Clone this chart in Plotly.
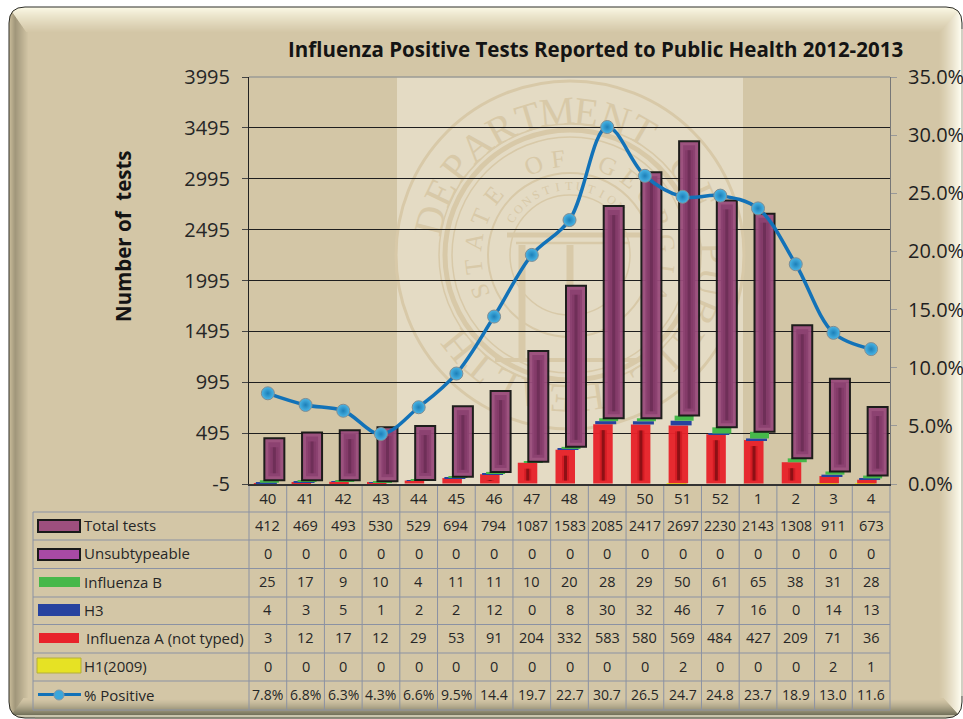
import math
import numpy as np
import plotly.graph_objects as go

weeks = ["40","41","42","43","44","45","46","47","48","49","50","51","52","1","2","3","4"]
total_tests = [412,469,493,530,529,694,794,1087,1583,2085,2417,2697,2230,2143,1308,911,673]
unsubtypeable = [0]*17
influenza_b = [25,17,9,10,4,11,11,10,20,28,29,50,61,65,38,31,28]
h3 = [4,3,5,1,2,2,12,0,8,30,32,46,7,16,0,14,13]
influenza_a = [3,12,17,12,29,53,91,204,332,583,580,569,484,427,209,71,36]
h1_2009 = [0,0,0,0,0,0,0,0,0,0,0,2,0,0,0,2,1]
pct_positive = [7.8,6.8,6.3,4.3,6.6,9.5,14.4,19.7,22.7,30.7,26.5,24.7,24.8,23.7,18.9,13.0,11.6]
pct_labels = ["7.8%","6.8%","6.3%","4.3%","6.6%","9.5%","14.4","19.7","22.7","30.7","26.5","24.7","24.8","23.7","18.9","13.0","11.6"]
y_ticks = [-5,495,995,1495,1995,2495,2995,3495,3995]
title_text = "Influenza Positive Tests Reported to Public Health 2012-2013"
row_names = ["Total tests","Unsubtypeable","Influenza B","H3","Influenza A (not typed)","H1(2009)","% Positive"]

W, H = 963, 719
L, R, T, B = 249, 890, 77, 484
CAT = (R - L) / 17
FONT = "Open Sans"
TXT = "#262626"

def px(x): return (x - L) / (R - L)
def py(y): return (B - y) / (B - T)
def lerp(a, b, t):
    ca = [int(a[i:i+2], 16) for i in (1, 3, 5)]
    cb = [int(b[i:i+2], 16) for i in (1, 3, 5)]
    return "#%02x%02x%02x" % tuple(round(u + (v - u) * t) for u, v in zip(ca, cb))

shapes, ann = [], []

def rect(x0, y0, x1, y1, fill, line=None, lw=0, layer="below"):
    shapes.append(dict(type="rect", xref="paper", yref="paper", x0=px(x0), x1=px(x1), y0=py(y0), y1=py(y1),
                       fillcolor=fill, line=dict(color=line or "rgba(0,0,0,0)", width=lw), layer=layer))

def hline(x0, x1, y, color, w=1, layer="below"):
    shapes.append(dict(type="line", xref="paper", yref="paper", x0=px(x0), x1=px(x1), y0=py(y), y1=py(y),
                       line=dict(color=color, width=w), layer=layer))

def vline(x, y0, y1, color, w=1, layer="below"):
    shapes.append(dict(type="line", xref="paper", yref="paper", x0=px(x), x1=px(x), y0=py(y0), y1=py(y1),
                       line=dict(color=color, width=w), layer=layer))

# ---------- panel with bevel
X0, X1, Y0, Y1, RAD = 9, 962, 7, 718, 16
BASE = "#d3c6a6"
rect(X0, Y0, X1, Y1, BASE)
for x in range(X0, 29):
    t = (x - X0) / 19
    c = lerp("#c8bb99", "#a0967a", t / .3) if t < .3 else lerp("#a0967a", BASE, (t - .3) / .7)
    rect(x, Y0, x + 1, Y1, c)
for x in range(938, X1):
    rect(x, Y0, x + 1, Y1, lerp(BASE, "#fffef2", ((x - 938) / 23) ** 1.3))
for y in range(Y0, 32):
    rect(X0 + (y - Y0) * .7, y, X1 - (y - Y0) * .9, y + 1, lerp("#fdfbe8", BASE, ((y - Y0) / 25) ** .8))
for y in range(698, Y1):
    t = (y - 698) / 17
    c = lerp(BASE, "#6c6b55", t ** 1.5) if y < 715 else "#c9c5ad"
    rect(X0 + (Y1 - y) * .7, y, X1 - (Y1 - y) * .9, y + 1, c)

P = lambda x, y: f"{px(x):.5f},{py(y):.5f}"
def rr_path():
    k = RAD
    return (f"M{P(X0+k,Y0)} L{P(X1-k,Y0)} Q{P(X1,Y0)} {P(X1,Y0+k)} L{P(X1,Y1-k)} Q{P(X1,Y1)} {P(X1-k,Y1)} "
            f"L{P(X0+k,Y1)} Q{P(X0,Y1)} {P(X0,Y1-k)} L{P(X0,Y0+k)} Q{P(X0,Y0)} {P(X0+k,Y0)} Z")

shapes.append(dict(type="path", xref="paper", yref="paper", layer="below", fillcolor="#ffffff", line=dict(width=0),
                   path=f"M{P(0,0)} L{P(W,0)} L{P(W,H)} L{P(0,H)} Z " + rr_path()))
shapes.append(dict(type="path", xref="paper", yref="paper", layer="below", fillcolor="rgba(0,0,0,0)",
                   line=dict(color="#2c2c26", width=1), path=rr_path()))
vline(X1, Y0 + RAD + 6, Y1 - RAD - 6, "#e6e4d6", 1.5)
hline(X0 + RAD + 10, X1 - RAD, Y1, "#8d8b78", 1.5)

# ---------- seal behind plot
rect(397, T, 743, B, "#e4dbc4")
SX, SY = 570, 255
SEAL = "#d8c9a8"

def circle(r, w):
    shapes.append(dict(type="circle", xref="paper", yref="paper", layer="below",
                       x0=px(SX - r), x1=px(SX + r), y0=py(SY + r), y1=py(SY - r),
                       fillcolor="rgba(0,0,0,0)", line=dict(color=SEAL, width=w)))

def glyph(ch, x, y, size, angle):
    shapes.append(dict(type="rect", xref="paper", yref="paper", layer="below",
                       x0=px(x - 1), x1=px(x + 1), y0=py(y + 1), y1=py(y - 1),
                       fillcolor="rgba(0,0,0,0)", line=dict(width=0),
                       label=dict(text=ch, textangle=angle, textposition="middle center",
                                  font=dict(family="Liberation Serif", size=size, color=SEAL))))

def ring_text(text, r, start, step, size):
    for i, ch in enumerate(text):
        if ch == " ":
            continue
        a = start + i * step
        glyph(ch, SX + r * math.sin(math.radians(a)), SY - r * math.cos(math.radians(a)), size, a)

circle(174, 3)
circle(131, 1.5)
circle(125, 5)
circle(118, 1.5)
circle(82, 2)
circle(60, 1.5)
ring_text("DEPARTMENT OF PUBLIC HEALTH", 148, -76, 11.8, 40)
ring_text("STATE OF GEORGIA", 100, -112, 15, 25)
ring_text("CONSTITUTION", 70, -58, 9.5, 12)
hline(507, 640, 235, SEAL, 5)
hline(516, 630, 243, SEAL, 2.5)
hline(495, 642, 360, SEAL, 4)
for cx in (522, 570, 618):
    vline(cx, 245, 358, SEAL, 7)

# ---------- table grid
GRID = "#8b92a3"
rows_y = [512, 540, 568.5, 597, 624.5, 653, 681, 710]
for y in rows_y:
    hline(33, R, y, GRID)
vline(33, 512, 710, GRID)
for i in range(18):
    vline(L + i * CAT, B, 710, GRID)

# ---------- legend keys + row names + cells
key_specs = [
    ("#9d4f7e", "#1a1a1a", 2, 38, 80, 520, 532),
    ("#a94aa5", "#1a1a1a", 2, 38, 80, 549, 560),
    ("#46b84a", None, 0, 39, 80, 577, 587),
    ("#27439f", None, 0, 38, 80, 604, 616),
    ("#e8232b", None, 0, 39, 79, 633, 643),
    ("#e6e224", "#b4ae3a", 1, 37, 81, 658, 673),
]
for fill, ln, lw, x0, x1, y0, y1 in key_specs:
    rect(x0, y0, x1, y1, fill, ln, lw, layer="above")
hline(38, 81, 694.5, "#1272b8", 3, layer="above")
shapes.append(dict(type="circle", xref="paper", yref="paper", layer="above",
                   x0=px(54), x1=px(64), y0=py(700), y1=py(690),
                   fillcolor="#3aa6da", line=dict(color="#7f97a8", width=1)))

cell_rows = [total_tests, unsubtypeable, influenza_b, h3, influenza_a, h1_2009, pct_labels]
for r, (name, vals) in enumerate(zip(row_names, cell_rows)):
    yc = (rows_y[r] + rows_y[r + 1]) / 2 - 1
    tx = 84 if name.startswith("Influenza A") else 82
    ann.append(dict(xref="paper", yref="paper", x=px(tx), y=py(yc), text=name, showarrow=False, xanchor="left",
                    yanchor="middle", font=dict(family=FONT, size=15, color=TXT)))
    for i, v in enumerate(vals):
        ann.append(dict(xref="x", yref="paper", x=i, y=py(yc), text=str(v), showarrow=False, xanchor="center",
                        yanchor="middle", font=dict(family=FONT, size=14.5 if len(str(v)) < 4 else 14, color=TXT)))

# ---------- stacked bars, each series stepped to the right as in the source
fig = go.Figure()
xs = list(range(17))
stack = [np.array(v, float) for v in (h1_2009, influenza_a, h3, influenza_b, unsubtypeable, total_tests)]
bases = np.cumsum([np.zeros(17)] + stack[:-1], axis=0)

def bar(vals, base, x_off, width, color, ln=None, lw=0, opacity=1.0, name=None):
    fig.add_trace(go.Bar(x=xs, y=vals, base=base, offset=x_off / CAT, width=width / CAT, name=name or "",
                         marker=dict(color=color, line=dict(color=ln or color, width=lw)), opacity=opacity,
                         hoverinfo="skip", yaxis="y", showlegend=False))

U = 4000 / (B - T)   # data units per pixel
def inset(i, top, bottom):
    h = np.maximum(stack[i] - (top + bottom) * U, 0)
    return h, bases[i] + bottom * U

bar(stack[0], bases[0], -16, 20, "#e6e224", name="H1(2009)")
bar(stack[1], bases[1], -14, 19.5, "#e8232b", opacity=.96, name="Influenza A (not typed)")
h, b = inset(1, 6, 3)
bar(h, b, -7.5, 7, "#d31c24")
bar(h, b, -5.5, 3, "#8e1015")
bar(stack[2], bases[2], -12, 21, "#27439f", name="H3")
bar(stack[3], bases[3], -8, 19, "#46b84a", name="Influenza B")
bar(stack[4], bases[4], -6, 20, "#a94aa5", name="Unsubtypeable")
bar(stack[5], bases[5], -3.5, 20, "#9a4c7c", "#141414", 2, opacity=.95, name="Total tests")
h, b = inset(5, 4, 4)
bar(h, b, 0.5, 12, "#8c4271")
h, b = inset(5, 9, 7)
bar(h, b, 2.5, 8, "#843b69")
bar(h, b, 5, 3, "#6f2f58")

fig.add_trace(go.Scatter(x=xs, y=np.array(pct_positive) / 100, yaxis="y2", mode="lines+markers", name="% Positive",
                         line=dict(color="#1272b8", width=3.5, shape="spline", smoothing=1.0),
                         marker=dict(size=13, color="#4ab6e6", gradient=dict(type="radial", color="#1d7fb8"),
                                     line=dict(color="#7f8c92", width=1)),
                         hoverinfo="skip", showlegend=False))

# ---------- titles
ann.append(dict(xref="paper", yref="paper", x=px(595), y=py(49), text=f"<b>{title_text}</b>", showarrow=False,
                xanchor="center", yanchor="middle", font=dict(family=FONT, size=20.5, color="#141414")))
ann.append(dict(xref="paper", yref="paper", x=px(123), y=py(236), text="<b>Number of  tests</b>", textangle=-90,
                showarrow=False, xanchor="center", yanchor="middle", font=dict(family=FONT, size=20.5, color="#141414")))
hline(L, R, T, "#9b9b96", 1.5, layer="above")

fig.update_layout(
    width=W, height=H, autosize=False, margin=dict(l=L, r=W - R, t=T, b=H - B, pad=0, autoexpand=False),
    paper_bgcolor="#ffffff", plot_bgcolor="rgba(0,0,0,0)", barmode="overlay", showlegend=False,
    font=dict(family=FONT, color=TXT), shapes=shapes, annotations=ann,
    xaxis=dict(type="linear", range=[-0.5, 16.5], tickmode="array", tickvals=xs, ticktext=weeks, ticks="", showgrid=False,
               zeroline=False, showline=True, linecolor="#333333", linewidth=2, automargin=False,
               tickfont=dict(family=FONT, size=15, color=TXT)),
    yaxis=dict(range=[-5, 3995], tickmode="array", tickvals=y_ticks, ticktext=[str(v) for v in y_ticks],
               showgrid=True, gridcolor="#1e1e1e", gridwidth=1, zeroline=False, automargin=False,
               showline=True, linecolor="#222222", linewidth=1, ticks="outside", ticklen=6, tickcolor="#444444",
               ticklabelstandoff=8, tickfont=dict(family=FONT, size=20, color=TXT)),
    yaxis2=dict(overlaying="y", side="right", range=[0, .35], dtick=.05, tickformat=".1%", showgrid=False, zeroline=False,
                showline=True, linecolor="#777777", linewidth=1, ticks="outside", ticklen=6, tickcolor="#999999",
                automargin=False, ticklabelstandoff=7, tickfont=dict(family=FONT, size=20, color="#1f1f1f")),
)

fig.write_html("out.html", config=dict(displayModeBar=False),
               post_script="document.body.style.margin='0';document.documentElement.style.overflow='hidden';")
